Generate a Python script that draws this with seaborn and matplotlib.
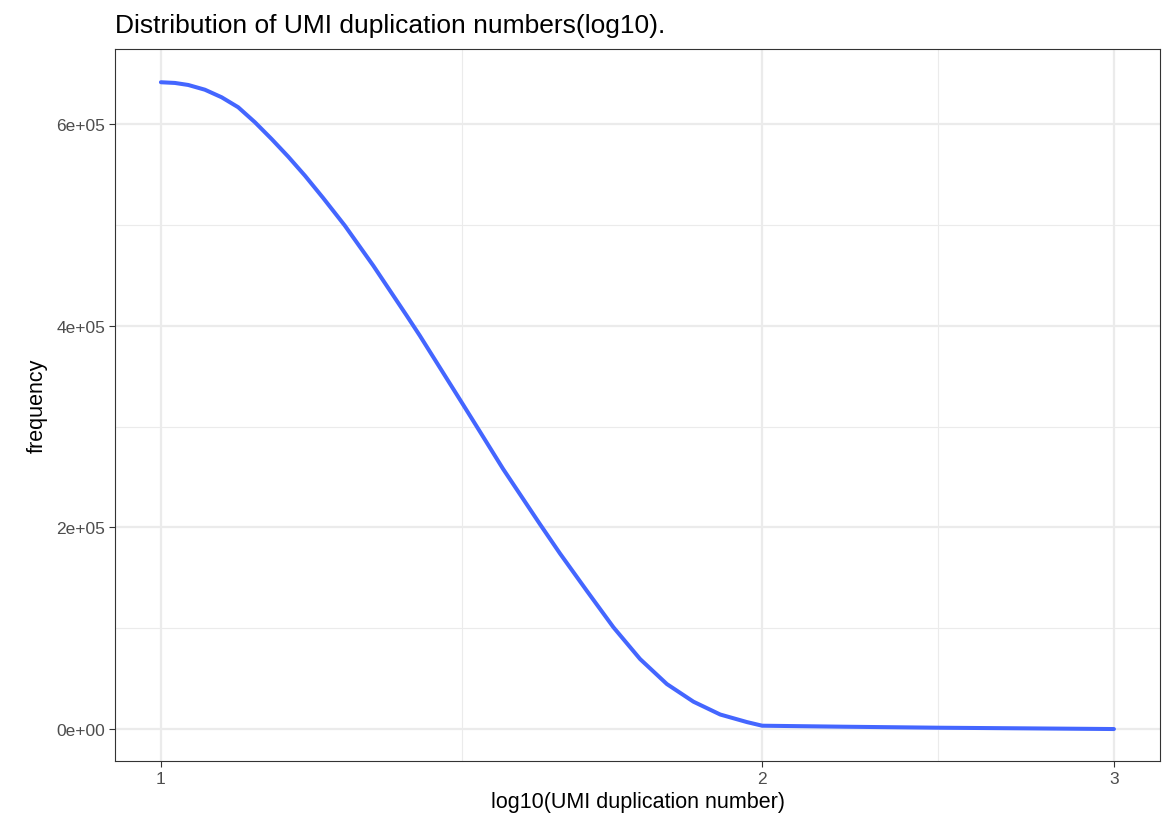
import numpy as np
import pandas as pd
import matplotlib
matplotlib.use('Agg')
import matplotlib.pyplot as plt
from matplotlib.ticker import NullFormatter
import seaborn as sns

# values (x = UMI duplication number, y = frequency)
dup_number = [1.0, 1.0163, 1.032, 1.052, 1.0725, 1.0932, 1.1145, 1.1361, 1.1581, 1.1807,
              1.2058, 1.2362, 1.2774, 1.3276, 1.3478, 1.4161, 1.439, 1.4836, 1.5478, 1.5841,
              1.6337, 1.6848, 1.7374, 1.7919, 1.8477, 1.9055, 1.9651, 2.0, 2.2, 2.455, 2.7, 3.0]
frequency = [641400, 640700, 638700, 634000, 626500, 616600, 601700, 585100, 567600, 548700,
             526500, 499200, 459500, 409900, 390100, 322300, 300200, 257900, 203300, 174100,
             137200, 100900, 69400, 44600, 27100, 14400, 6900, 3300, 2300, 1300, 700, 0]

x_ticks = [1, 2, 3]
x_minor = [10 ** 0.1505, 10 ** 0.389]
y_ticks = [0, 2e5, 4e5, 6e5]
y_labels = ['0e+00', '2e+05', '4e+05', '6e+05']
y_minor = [1e5, 3e5, 5e5]

df = pd.DataFrame({'dup': dup_number, 'freq': frequency})

sns.set_theme(style='white')
plt.rcParams['font.family'] = ['Liberation Sans', 'DejaVu Sans']

fig = plt.figure(figsize=(11.73, 8.37), dpi=100)
ax = fig.add_axes([0.098, 0.0896, 0.891, 0.8507])

sns.lineplot(data=df, x='dup', y='freq', ax=ax, color='#4466FF', linewidth=2.9, zorder=3)
ax.get_lines()[0].set_solid_joinstyle('round')

ax.set_xscale('log')
ax.set_xlim(0.9484, 3.164)
ax.set_ylim(-31700, 674400)

ax.set_xticks(x_ticks)
ax.set_xticklabels([str(t) for t in x_ticks])
ax.set_xticks(x_minor, minor=True)
ax.xaxis.set_minor_formatter(NullFormatter())
ax.set_yticks(y_ticks)
ax.set_yticklabels(y_labels)
ax.set_yticks(y_minor, minor=True)
ax.yaxis.set_minor_formatter(NullFormatter())

ax.grid(which='major', color='#EBEBEB', linewidth=1.6, zorder=0)
ax.grid(which='minor', color='#EBEBEB', linewidth=0.8, zorder=0)
ax.set_axisbelow(True)

for s in ax.spines.values():
    s.set_color('#333333')
    s.set_linewidth(0.8)

ax.tick_params(which='major', length=4, width=0.8, color='#333333',
               labelsize=12.5, labelcolor='#4D4D4D', bottom=True, left=True, pad=3)
ax.tick_params(which='minor', length=0, bottom=False, left=False)

ax.set_xlabel('log10(UMI duplication number)', fontsize=15.5, color='black', labelpad=4)
ax.set_ylabel('frequency', fontsize=15.5, color='black', labelpad=6)
ax.set_title('Distribution of UMI duplication numbers(log10).', fontsize=19, loc='left',
             color='black', pad=12)

fig.savefig('out.png', dpi=100)
